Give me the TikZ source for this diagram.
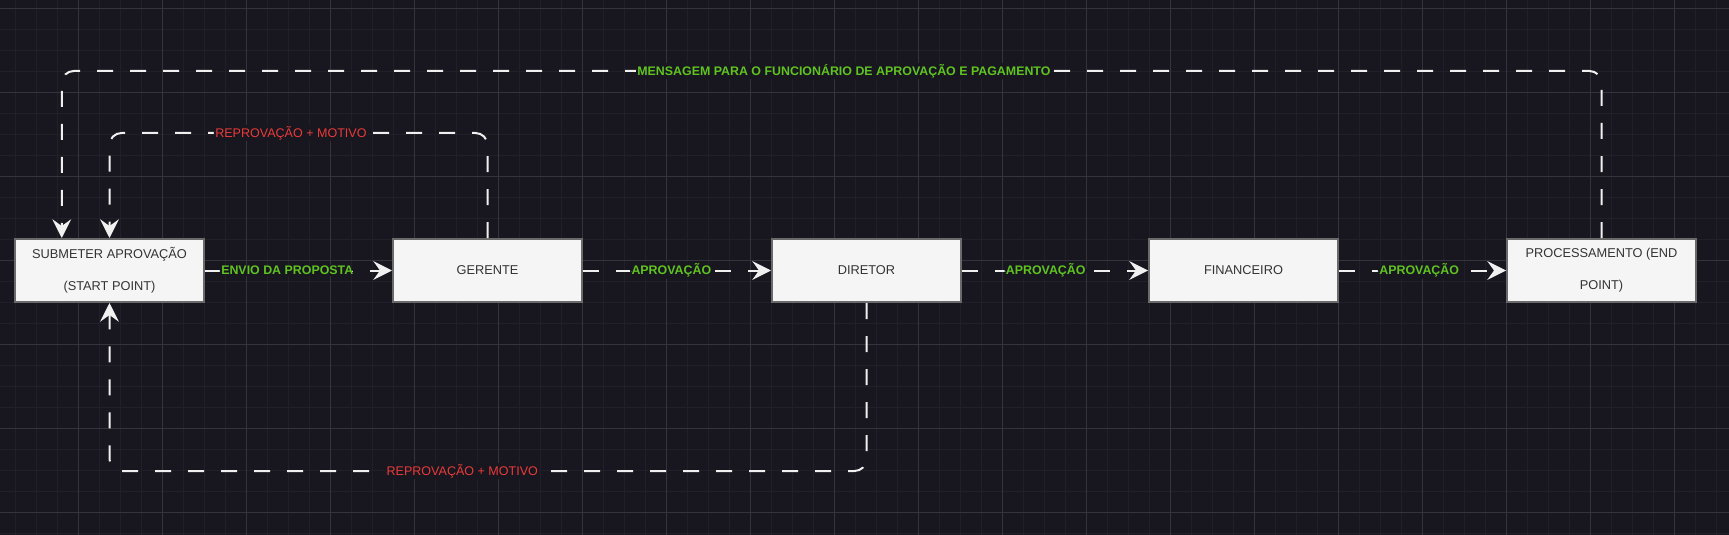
\documentclass[tikz,border=0pt]{standalone}
\usepackage{fontspec}
\setmainfont{Liberation Sans}
\usepackage{tikz}
\usetikzlibrary{arrows.meta}
\usetikzlibrary{calc}

\definecolor{bgdark}{HTML}{18161E}
\definecolor{gridminor}{HTML}{221F28}
\definecolor{gridmajor}{HTML}{35333C}
\definecolor{boxfill}{HTML}{F5F5F5}
\definecolor{boxline}{HTML}{6A6A6A}
\definecolor{okgreen}{HTML}{5FC41E}
\definecolor{nored}{HTML}{EC3B3B}
\definecolor{flowline}{HTML}{F0F0F0}

\begin{document}
\begin{tikzpicture}[x=0.75pt,y=-0.75pt,
    box/.style={draw=boxline,line width=1.5pt,fill=boxfill,text=black!80,
      minimum width=141.75pt,minimum height=47.25pt,inner sep=0pt,align=center,
      font=\fontsize{9.6}{24}\selectfont},
    flow/.style={draw=flowline,line width=1.5pt,dash pattern=on 12pt off 12.75pt,
      rounded corners=9pt,-{Stealth[length=14pt,width=14pt,inset=5pt]}},
    okay/.style={fill=bgdark,inner sep=1pt,text=okgreen,font=\bfseries\fontsize{9.3}{11}\selectfont},
    back/.style={fill=bgdark,inner sep=1pt,text=nored,font=\fontsize{9.4}{11}\selectfont}]
  \useasboundingbox (0,0) rectangle (1729,535);
  \fill[bgdark] (0,0) rectangle (1729,535);
  % grid
  \foreach \x in {15,36,...,1729} \draw[gridminor,line width=0.6pt] (\x,0) -- (\x,535);
  \foreach \y in {8,29,...,535} \draw[gridminor,line width=0.6pt] (0,\y) -- (1729,\y);
  \foreach \x in {78,162,...,1729} \draw[gridmajor,line width=0.6pt] (\x,0) -- (\x,535);
  \foreach \y in {8,92,...,535} \draw[gridmajor,line width=0.6pt] (0,\y) -- (1729,\y);

  \node[box] (submeter) at (109.5,270.5) {SUBMETER APROVAÇÃO\\(START POINT)};
  \node[box] (gerente) at (487.5,270.5) {GERENTE};
  \node[box] (diretor) at (866.5,270.5) {DIRETOR};
  \node[box] (financeiro) at (1243.5,270.5) {FINANCEIRO};
  \node[box] (processamento) at (1601.5,270.5) {PROCESSAMENTO (END\\POINT)};
  \coordinate (aviso) at ($(submeter.north west)!0.25!(submeter.north east)$);

  \draw[flow] (submeter) -- node[okay,pos=0.44] {ENVIO DA PROPOSTA} (gerente);
  \draw[flow] (gerente) -- node[okay,pos=0.47] {APROVAÇÃO} (diretor);
  \draw[flow] (diretor) -- node[okay,pos=0.45] {APROVAÇÃO} (financeiro);
  \draw[flow] (financeiro) -- node[okay,pos=0.48] {APROVAÇÃO} (processamento);

  % loops back to the start
  \draw[flow] (gerente.north) -- ++(0,-105) -| node[back,pos=0.26] {REPROVAÇÃO + MOTIVO} (submeter.north);
  \draw[flow] (diretor.south) -- ++(0,168) -| node[back,pos=0.267] {REPROVAÇÃO + MOTIVO} (submeter.south);
  \draw[flow] (processamento.north) -- ++(0,-167) -| node[okay,pos=0.246] {MENSAGEM PARA O FUNCIONÁRIO DE APROVAÇÃO E PAGAMENTO} (aviso);
\end{tikzpicture}
\end{document}
